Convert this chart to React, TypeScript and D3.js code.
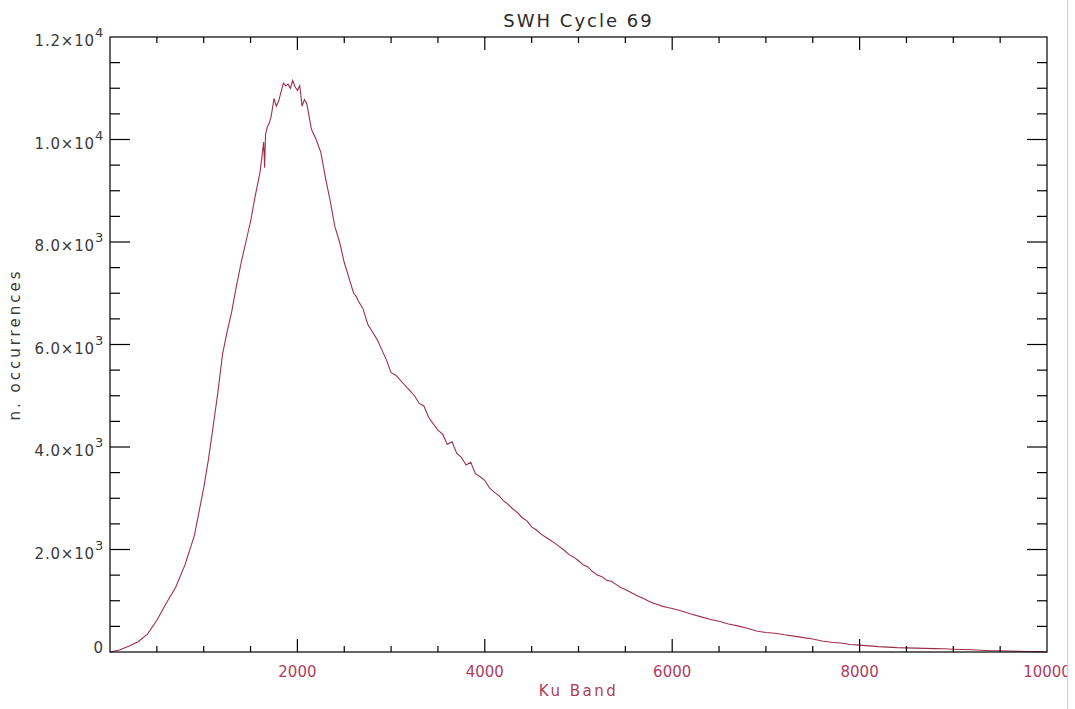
import React, { useEffect, useRef } from "react";
import * as d3 from "d3";

const swhBins: number[] = [
  0, 100, 200, 300, 400, 500, 600, 700, 800, 900, 1000, 1050, 1100, 1150, 1200, 1250, 1300, 1350, 1400, 1450,
  1500, 1550, 1600, 1640, 1650, 1660, 1680, 1700, 1720, 1750, 1775, 1800, 1850, 1875, 1900, 1925, 1950, 1975,
  2000, 2025, 2050, 2075, 2100, 2150, 2200, 2250, 2275, 2300, 2350, 2400, 2450, 2500, 2525, 2550, 2600, 2625,
  2650, 2700, 2750, 2800, 2850, 2900, 2950, 3000, 3050, 3100, 3150, 3200, 3250, 3300, 3350, 3400, 3450, 3500,
  3550, 3600, 3650, 3700, 3750, 3800, 3850, 3900, 3950, 4000, 4050, 4100, 4150, 4200, 4250, 4300, 4350, 4400,
  4450, 4500, 4550, 4600, 4650, 4700, 4750, 4800, 4850, 4900, 4950, 5000, 5050, 5100, 5150, 5200, 5250, 5300,
  5350, 5400, 5450, 5500, 5550, 5600, 5650, 5700, 5750, 5800, 5850, 5900, 5950, 6000, 6100, 6200, 6300, 6400,
  6500, 6600, 6700, 6800, 6900, 7000, 7100, 7200, 7300, 7400, 7500, 7600, 7700, 7800, 7900, 8000, 8100, 8200,
  8300, 8400, 8500, 8600, 8700, 8800, 8900, 9000, 9100, 9200, 9300, 9400, 9500, 9600, 9700, 9800, 9900, 10000,
];

const occurrences: number[] = [
  0, 40, 110, 200, 350, 620, 950, 1260, 1700, 2270, 3200, 3750, 4390, 5050, 5800, 6250, 6650, 7150, 7600, 8000,
  8400, 8900, 9350, 9950, 9450, 10100, 10250, 10320, 10450, 10800, 10650, 10750, 11100, 11050, 11080, 11000, 11150, 11030,
  10960, 11050, 10650, 10780, 10700, 10200, 10000, 9750, 9500, 9250, 8800, 8300, 8000, 7600, 7450, 7300, 7000, 6950,
  6850, 6700, 6400, 6250, 6100, 5900, 5700, 5450, 5400, 5300, 5200, 5100, 5000, 4850, 4800, 4580, 4450, 4330,
  4250, 4050, 4100, 3880, 3800, 3650, 3700, 3480, 3420, 3350, 3200, 3120, 3050, 2950, 2880, 2790, 2720, 2620,
  2560, 2440, 2380, 2300, 2240, 2180, 2120, 2050, 1980, 1900, 1850, 1780, 1700, 1660, 1570, 1500, 1470, 1400,
  1380, 1320, 1260, 1220, 1170, 1120, 1080, 1040, 990, 950, 920, 890, 870, 850, 800, 740, 690, 640,
  600, 545, 510, 465, 410, 380, 365, 335, 310, 280, 255, 215, 190, 175, 145, 135, 120, 105,
  95, 85, 80, 75, 70, 65, 62, 55, 50, 45, 35, 25, 25, 20, 15, 10, 8, 0,
];

const yMajorTicks: number[] = [0, 2000, 4000, 6000, 8000, 10000, 12000];
const yTickMantissa: string[] = ["0", "2.0", "4.0", "6.0", "8.0", "1.0", "1.2"];
const yTickExponent: string[] = ["", "3", "3", "3", "3", "4", "4"];
const xMajorTicks: number[] = [2000, 4000, 6000, 8000, 10000];

const LINE = "#9e2f4b";
const XTEXT = "#ad3d5e";
const FONT = "DejaVu Sans, sans-serif";

export default function App() {
  const ref = useRef<SVGSVGElement>(null);

  useEffect(() => {
    const svg = d3.select(ref.current);
    svg.selectAll("*").remove();
    const W = 1075, H = 709;
    const left = 110, right = 1047, top = 37, bottom = 652;
    const x = d3.scaleLinear().domain([0, 10000]).range([left, right]);
    const y = d3.scaleLinear().domain([0, 12000]).range([bottom, top]);

    svg.append("rect").attr("width", W).attr("height", H).attr("fill", "#fff");

    const line = d3
      .line<number>()
      .x((_, i) => x(swhBins[i]))
      .y((d) => y(d));
    svg
      .append("path")
      .datum(occurrences)
      .attr("d", line)
      .attr("fill", "none")
      .attr("stroke", LINE)
      .attr("stroke-width", 1.1);

    const axis = svg.append("g").attr("stroke", "#000").attr("stroke-width", 1.2);
    axis.append("rect").attr("x", left).attr("y", top).attr("width", right - left).attr("height", bottom - top).attr("fill", "none");

    const xMinor = d3.range(500, 10000, 500);
    xMinor.forEach((v) => {
      const isMajor = v % 2000 === 0;
      const len = isMajor ? 13 : 6;
      axis.append("line").attr("x1", x(v)).attr("x2", x(v)).attr("y1", bottom).attr("y2", bottom - len);
      axis.append("line").attr("x1", x(v)).attr("x2", x(v)).attr("y1", top).attr("y2", top + len);
    });
    const yMinor = d3.range(500, 12000, 500);
    yMinor.forEach((v) => {
      const isMajor = v % 2000 === 0;
      const len = isMajor ? 20 : 10;
      axis.append("line").attr("y1", y(v)).attr("y2", y(v)).attr("x1", left).attr("x2", left + len);
      axis.append("line").attr("y1", y(v)).attr("y2", y(v)).attr("x1", right).attr("x2", right - len);
    });

    yMajorTicks.forEach((v, i) => {
      const ty = y(v);
      if (yTickExponent[i] === "") {
        svg
          .append("text")
          .attr("x", 103)
          .attr("y", ty + 1)
          .attr("text-anchor", "end")
          .attr("font-family", FONT)
          .attr("font-size", 15)
          .attr("fill", "#3a3a3a")
          .text(yTickMantissa[i]);
      } else {
        const t = svg
          .append("text")
          .attr("x", 104)
          .attr("y", ty + 9)
          .attr("text-anchor", "end")
          .attr("font-family", FONT)
          .attr("font-size", 15)
          .attr("letter-spacing", 0.8)
          .attr("fill", "#3a3a3a");
        t.append("tspan").text(yTickMantissa[i] + "\u00d710");
        t.append("tspan").attr("dy", -9).attr("font-size", 13).text(yTickExponent[i]);
      }
    });

    xMajorTicks.forEach((v) => {
      svg
        .append("text")
        .attr("x", x(v))
        .attr("y", 677)
        .attr("text-anchor", "middle")
        .attr("font-family", FONT)
        .attr("font-size", 15)
        .attr("fill", XTEXT)
        .text(String(v));
    });

    svg
      .append("text")
      .attr("x", (left + right) / 2)
      .attr("y", 696)
      .attr("text-anchor", "middle")
      .attr("font-family", FONT)
      .attr("font-size", 15)
      .attr("letter-spacing", 2.5)
      .attr("fill", XTEXT)
      .text("Ku Band");

    svg
      .append("text")
      .attr("transform", `translate(20, ${(top + bottom) / 2}) rotate(-90)`)
      .attr("text-anchor", "middle")
      .attr("font-family", FONT)
      .attr("font-size", 15)
      .attr("letter-spacing", 3)
      .attr("fill", "#3a3a3a")
      .text("n. occurrences");

    svg
      .append("text")
      .attr("x", (left + right) / 2)
      .attr("y", 27)
      .attr("text-anchor", "middle")
      .attr("font-family", FONT)
      .attr("font-size", 18)
      .attr("letter-spacing", 2)
      .attr("fill", "#2a2a2a")
      .text("SWH Cycle 69");

    svg.append("rect").attr("x", 1067).attr("y", 0).attr("width", W - 1067).attr("height", H).attr("fill", "#fff");
    svg.append("line").attr("x1", 1067.5).attr("x2", 1067.5).attr("y1", 0).attr("y2", H).attr("stroke", "#d0d0d0").attr("stroke-width", 1);
  }, []);

  return (
    <svg
      ref={ref}
      width={1075}
      height={709}
      style={{ position: "absolute", left: 0, top: 0, display: "block" }}
    />
  );
}
